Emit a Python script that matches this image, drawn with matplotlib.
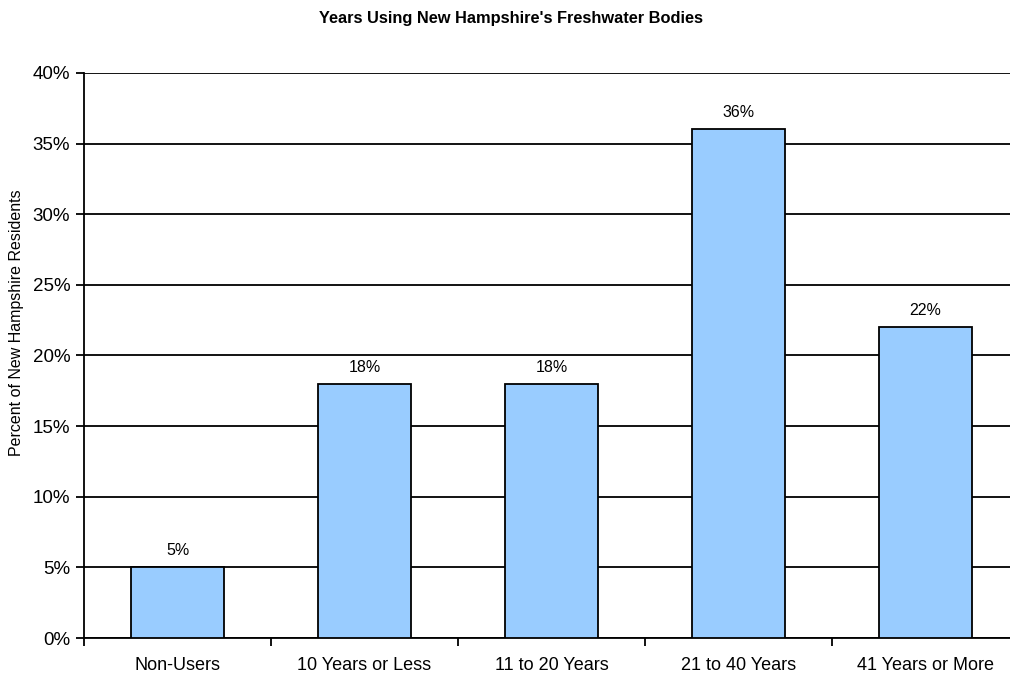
import matplotlib
matplotlib.use("Agg")
import matplotlib.pyplot as plt
from matplotlib.ticker import FixedLocator, PercentFormatter

plt.rcParams['font.family'] = ['Liberation Sans', 'DejaVu Sans']

categories = ["Non-Users", "10 Years or Less", "11 to 20 Years", "21 to 40 Years", "41 Years or More"]
values = [5, 18, 18, 36, 22]
yticks = [0, 5, 10, 15, 20, 25, 30, 35, 40]

fig = plt.figure(figsize=(10.1, 6.75), dpi=100)
ax = fig.add_axes([0.0832, 0.0548, 0.9257, 0.8371])

x = list(range(len(categories)))
ax.set_axisbelow(True)
ax.yaxis.grid(True, color='black', linewidth=1.3)
bars = ax.bar(x, values, width=0.5, color='#99CCFF', edgecolor='black', linewidth=1.3, zorder=3)
for xi, v in zip(x, values):
    ax.text(xi, v + 0.65, f"{v}%", ha='center', va='bottom', fontsize=11.5)

ax.set_xlim(-0.5, len(categories) - 0.5)
ax.set_ylim(0, 40)
ax.set_yticks(yticks)
ax.yaxis.set_major_formatter(PercentFormatter(decimals=0))
ax.tick_params(axis='y', labelsize=13.5, length=6, width=1.3, direction='out', pad=4)
ax.set_xticks(x)
ax.set_xticklabels(categories)
ax.xaxis.set_minor_locator(FixedLocator([i - 0.5 for i in range(len(categories) + 1)]))
ax.tick_params(axis='x', which='major', length=0, labelsize=13, pad=14)
ax.tick_params(axis='x', which='minor', length=6, width=1.3, direction='out')

for s in ['top', 'right']:
    ax.spines[s].set_visible(False)
for s in ['left', 'bottom']:
    ax.spines[s].set_linewidth(1.3)

fig.text(17 / 1010, 1 - 323 / 675, "Percent of New Hampshire Residents", rotation=90,
         ha='center', va='center', fontsize=11.5)
fig.text(511 / 1010, 1 - 18 / 675, "Years Using New Hampshire's Freshwater Bodies", ha='center', va='center',
         fontsize=11.8, fontweight='bold')

fig.savefig("out.png", dpi=100)
